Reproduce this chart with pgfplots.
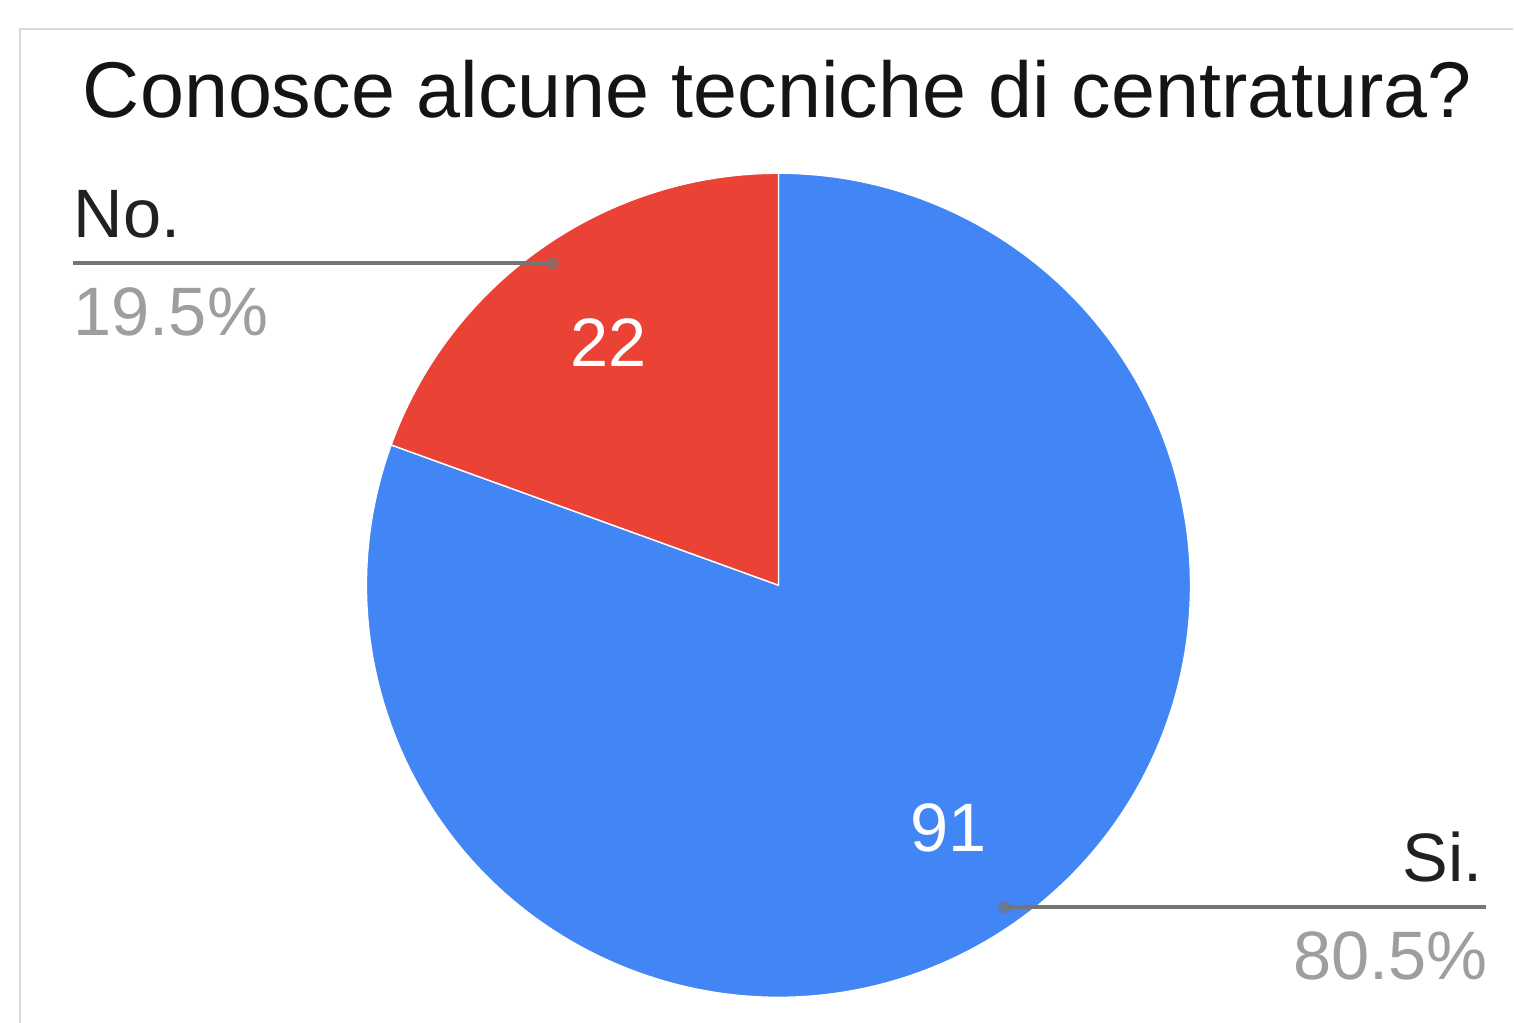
\documentclass[border=0pt]{standalone}
\usepackage{pgfplots}
\usepackage{pgfplotstable}
\pgfplotsset{compat=1.18}
\usepackage{fontspec}
\setmainfont{Liberation Sans}

\definecolor{pieBlue}{HTML}{4285F4}
\definecolor{pieRed}{HTML}{EA4335}
\definecolor{leader}{HTML}{757575}
\definecolor{pctGrey}{HTML}{9E9E9E}
\definecolor{frameGrey}{HTML}{DADADA}

% answers to the question
\pgfplotstableread{
label value
No. 22
Si. 91
}\piedata

\begin{document}
\begin{tikzpicture}
\pgfplotstablegetelem{0}{value}\of\piedata \let\vNo\pgfplotsretval
\pgfplotstablegetelem{1}{value}\of\piedata \let\vSi\pgfplotsretval
\pgfmathsetmacro\total{\vNo+\vSi}
\pgfmathsetmacro\aNo{90+360*\vNo/\total}   % end angle of the red slice
\pgfmathsetmacro\mNo{(90+\aNo)/2}
\pgfmathsetmacro\mSi{(\aNo+450)/2}
\def\cx{779}\def\cy{438}\def\R{412}
\pgfmathsetmacro\dNoX{\cx+0.955*\R*cos(\mNo)}
\pgfmathsetmacro\dNoY{\cy+0.955*\R*sin(\mNo)}
\pgfmathsetmacro\dSiX{\cx+0.955*\R*cos(\mSi)}
\pgfmathsetmacro\dSiY{\cy+0.955*\R*sin(\mSi)}
\begin{axis}[
  x=0.01cm, y=0.01cm,
  xmin=0, xmax=1514, ymin=0, ymax=1023,
  hide axis,
]
% frame
\draw[frameGrey, line width=0.6pt] (axis cs:20,0) -- (axis cs:20,995) -- (axis cs:1514,995);
% slices
\fill[pieBlue, draw=white, line width=0.4pt] (axis cs:\cx,\cy) -- ++(\aNo:4.12cm)
  arc[start angle=\aNo, end angle=450, radius=4.12cm] -- cycle;
\fill[pieRed, draw=white, line width=0.4pt] (axis cs:\cx,\cy) -- ++(90:4.12cm)
  arc[start angle=90, end angle=\aNo, radius=4.12cm] -- cycle;
% values inside
\node[white, font=\fontsize{19.5}{23}\selectfont] at (axis cs:{\cx+0.72*\R*cos(\mNo)},{\cy+0.72*\R*sin(\mNo)}) {\vNo};
\node[white, font=\fontsize{19.5}{23}\selectfont] at (axis cs:{\cx+0.72*\R*cos(\mSi)},{\cy+0.72*\R*sin(\mSi)}) {\vSi};
% leaders
\draw[leader, line width=1.1pt] (axis cs:73,\dNoY) -- (axis cs:\dNoX,\dNoY);
\draw[leader, line width=1.1pt] (axis cs:\dSiX,\dSiY) -- (axis cs:1487,\dSiY);
\fill[leader, opacity=0.6] (axis cs:\dNoX,\dNoY) circle[radius=1.8pt];
\fill[leader, opacity=0.6] (axis cs:\dSiX,\dSiY) circle[radius=1.8pt];
% outside labels
\node[anchor=base west, inner sep=0pt, text=black!87, font=\fontsize{19.5}{23}\selectfont] at (axis cs:73,786) {No.};
\node[anchor=base west, inner sep=0pt, text=pctGrey, font=\fontsize{19.5}{23}\selectfont] at (axis cs:73,688) {19.5\%};
\node[anchor=base east, inner sep=0pt, text=black!87, font=\fontsize{19.5}{23}\selectfont] at (axis cs:1484,142) {Si.};
\node[anchor=base east, inner sep=0pt, text=pctGrey, font=\fontsize{19.5}{23}\selectfont] at (axis cs:1489,43) {80.5\%};
% title
\node[anchor=base, inner sep=0pt, text=black!92, font=\fontsize{22.5}{27}\selectfont] at (axis cs:778,906) {Conosce alcune tecniche di centratura?};
\end{axis}
\pgfresetboundingbox
\useasboundingbox (0,0) rectangle (15.14cm,10.23cm);
\end{tikzpicture}
\end{document}
